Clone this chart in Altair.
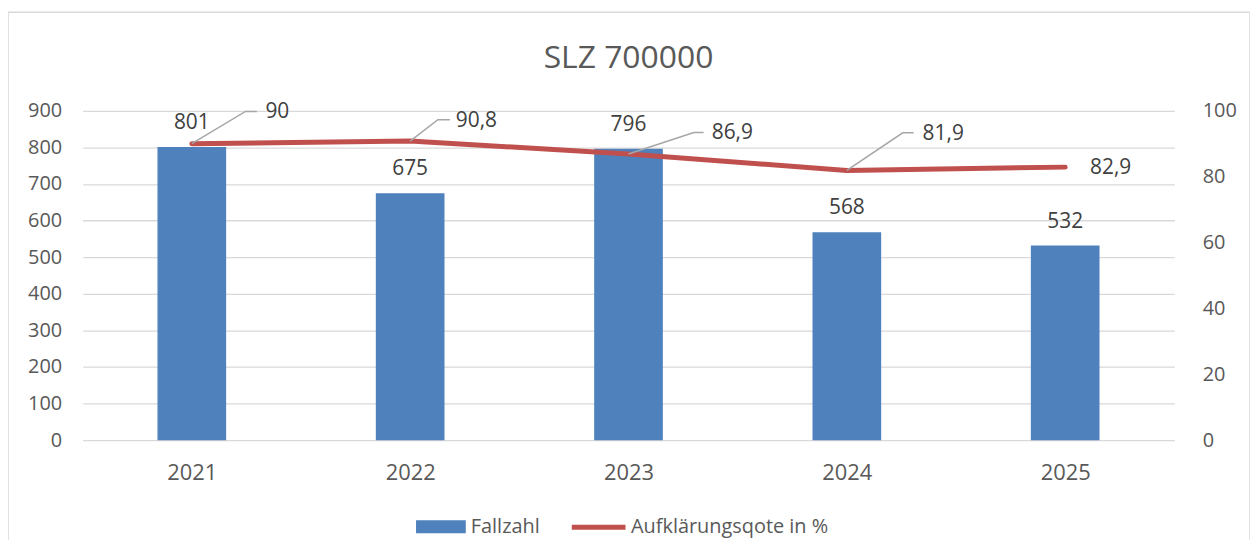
import altair as alt
import pandas as pd

# ---- data ----
years = [2021, 2022, 2023, 2024, 2025]
fallzahl = [801, 675, 796, 568, 532]
quote = [90.0, 90.8, 86.9, 81.9, 82.9]
quote_text = ["90", "90,8", "86,9", "81,9", "82,9"]
series_bar = "Fallzahl"
series_line = "Aufklärungsqote in %"
title_text = "SLZ 700000"
left_ticks = [0, 100, 200, 300, 400, 500, 600, 700, 800, 900]
right_ticks = [0, 20, 40, 60, 80, 100]

# ---- label placement (layout only): x offsets in years, label heights in % ----
lab_dx = [0.337, 0.209, 0.381, 0.347, 0.114]
lab_y = [99.8, 97.3, 93.4, 93.3, 82.9]
elbow_dx = [0.246, 0.127, 0.299, 0.256]
end_dx = [0.298, 0.182, 0.344, 0.306]

FONT = "Open Sans"
TXT = "#595959"
LBL = "#404040"
BLUE = "#4F81BD"
RED = "#C0504D"
GRID = "#D9D9D9"
W, H = 1097, 331
PAD_BOTTOM = 100
FS = 21

bars_df = pd.DataFrame({"year": years, "value": fallzahl, "series": series_bar})
line_df = pd.DataFrame({"year": years, "quote": quote, "series": series_line})
qlab_df = pd.DataFrame({
    "lx": [y + d for y, d in zip(years, lab_dx)],
    "ly": lab_y,
    "t": quote_text,
})
lead_rows = []
for i in range(len(elbow_dx)):
    y0 = years[i]
    lead_rows += [
        {"g": y0, "s": 0, "lx": y0, "ly": quote[i]},
        {"g": y0, "s": 1, "lx": y0 + elbow_dx[i], "ly": lab_y[i]},
        {"g": y0, "s": 2, "lx": y0 + end_dx[i], "ly": lab_y[i]},
    ]
lead_df = pd.DataFrame(lead_rows)

xscale = alt.Scale(domain=[2020.5, 2025.5], nice=False, zero=False, padding=0)
xaxis = alt.Axis(values=years, format="d", title=None, grid=False, ticks=False,
                 domain=False, labelFont=FONT, labelFontSize=22, labelColor=TXT,
                 labelPadding=22)

yl_scale = alt.Scale(domain=[0, 900], nice=False)
yl_axis = alt.Axis(values=left_ticks, title=None, grid=True, gridColor=GRID,
                   gridWidth=1.3, ticks=False, domain=False, labelFont=FONT,
                   labelFontSize=20, labelColor=TXT, labelPadding=21)
yr_scale = alt.Scale(domain=[0, 100], nice=False)
yr_axis = alt.Axis(values=right_ticks, title=None, grid=False, ticks=False,
                   domain=False, orient="right", labelFont=FONT, labelFontSize=20,
                   labelColor=TXT, labelPadding=28)


def xenc(field):
    return alt.X(field, scale=xscale, axis=xaxis)


bars = alt.Chart(bars_df).mark_bar(size=69).encode(
    x=xenc("year:Q"),
    y=alt.Y("value:Q", scale=yl_scale, axis=yl_axis),
    color=alt.Color("series:N",
                    scale=alt.Scale(domain=[series_bar], range=[BLUE]),
                    legend=alt.Legend(orient="none", legendX=335, legendY=393,
                                      title=None, symbolType="M-1,-0.26H1V0.26H-1Z",
                                      symbolSize=2500, symbolStrokeWidth=0,
                                      labelFont=FONT, labelFontSize=20,
                                      labelColor=TXT, labelOffset=5,
                                      labelLimit=400)),
)
bar_labels = alt.Chart(bars_df).mark_text(
    baseline="alphabetic", dy=-18, font=FONT, fontSize=FS, color=LBL
).encode(
    x=xenc("year:Q"),
    y=alt.Y("value:Q", scale=yl_scale, axis=None),
    text="value:N",
)

line = alt.Chart(line_df).mark_line(strokeWidth=5, strokeCap="round",
                                    strokeJoin="round").encode(
    x=xenc("year:Q"),
    y=alt.Y("quote:Q", scale=yr_scale, axis=yr_axis),
    stroke=alt.Stroke("series:N",
                      scale=alt.Scale(domain=[series_line], range=[RED]),
                      legend=alt.Legend(orient="none", legendX=489, legendY=389,
                                        title=None, symbolType="stroke",
                                        symbolSize=2916, symbolStrokeWidth=5,
                                        labelFont=FONT, labelFontSize=20,
                                        labelColor=TXT, labelOffset=3,
                                        labelLimit=400)),
)
leaders = alt.Chart(lead_df).mark_line(color="#A6A6A6", strokeWidth=1.5).encode(
    x=xenc("lx:Q"),
    y=alt.Y("ly:Q", scale=yr_scale, axis=None),
    detail="g:N",
    order="s:Q",
)
q_labels = alt.Chart(qlab_df).mark_text(
    align="left", baseline="alphabetic", dy=7, font=FONT, fontSize=FS, color=LBL
).encode(
    x=xenc("lx:Q"),
    y=alt.Y("ly:Q", scale=yr_scale, axis=None),
    text="t:N",
)

title_df = pd.DataFrame({"t": [title_text]})
title = alt.Chart(title_df).mark_text(
    font=FONT, fontSize=32, color=TXT, align="center", baseline="middle"
).encode(x=alt.value(W / 2), y=alt.value(-53), text="t:N")

frame_df = pd.DataFrame({"k": [0]})
frame_l = alt.Chart(frame_df).mark_rule(color=GRID, strokeWidth=1.5).encode(
    x=alt.value(-75), y=alt.value(-99), y2=alt.value(H + PAD_BOTTOM))
frame_t = alt.Chart(frame_df).mark_rule(color=GRID, strokeWidth=1.5).encode(
    x=alt.value(-75), x2=alt.value(1173), y=alt.value(-99))
frame_r = alt.Chart(frame_df).mark_rule(color=GRID, strokeWidth=1.5).encode(
    x=alt.value(1173), y=alt.value(-99), y2=alt.value(H + PAD_BOTTOM))

chart = alt.layer(
    bars, bar_labels, line, leaders, q_labels, title, frame_l, frame_t, frame_r
).resolve_scale(
    y="independent"
).properties(
    width=W, height=H,
    autosize=alt.AutoSizeParams(type="none"),
    padding={"left": 75, "top": 102, "right": 76, "bottom": PAD_BOTTOM},
    background="white",
).configure_view(stroke=None)

chart.save("out.html", embed_options={"renderer": "svg", "actions": False})
